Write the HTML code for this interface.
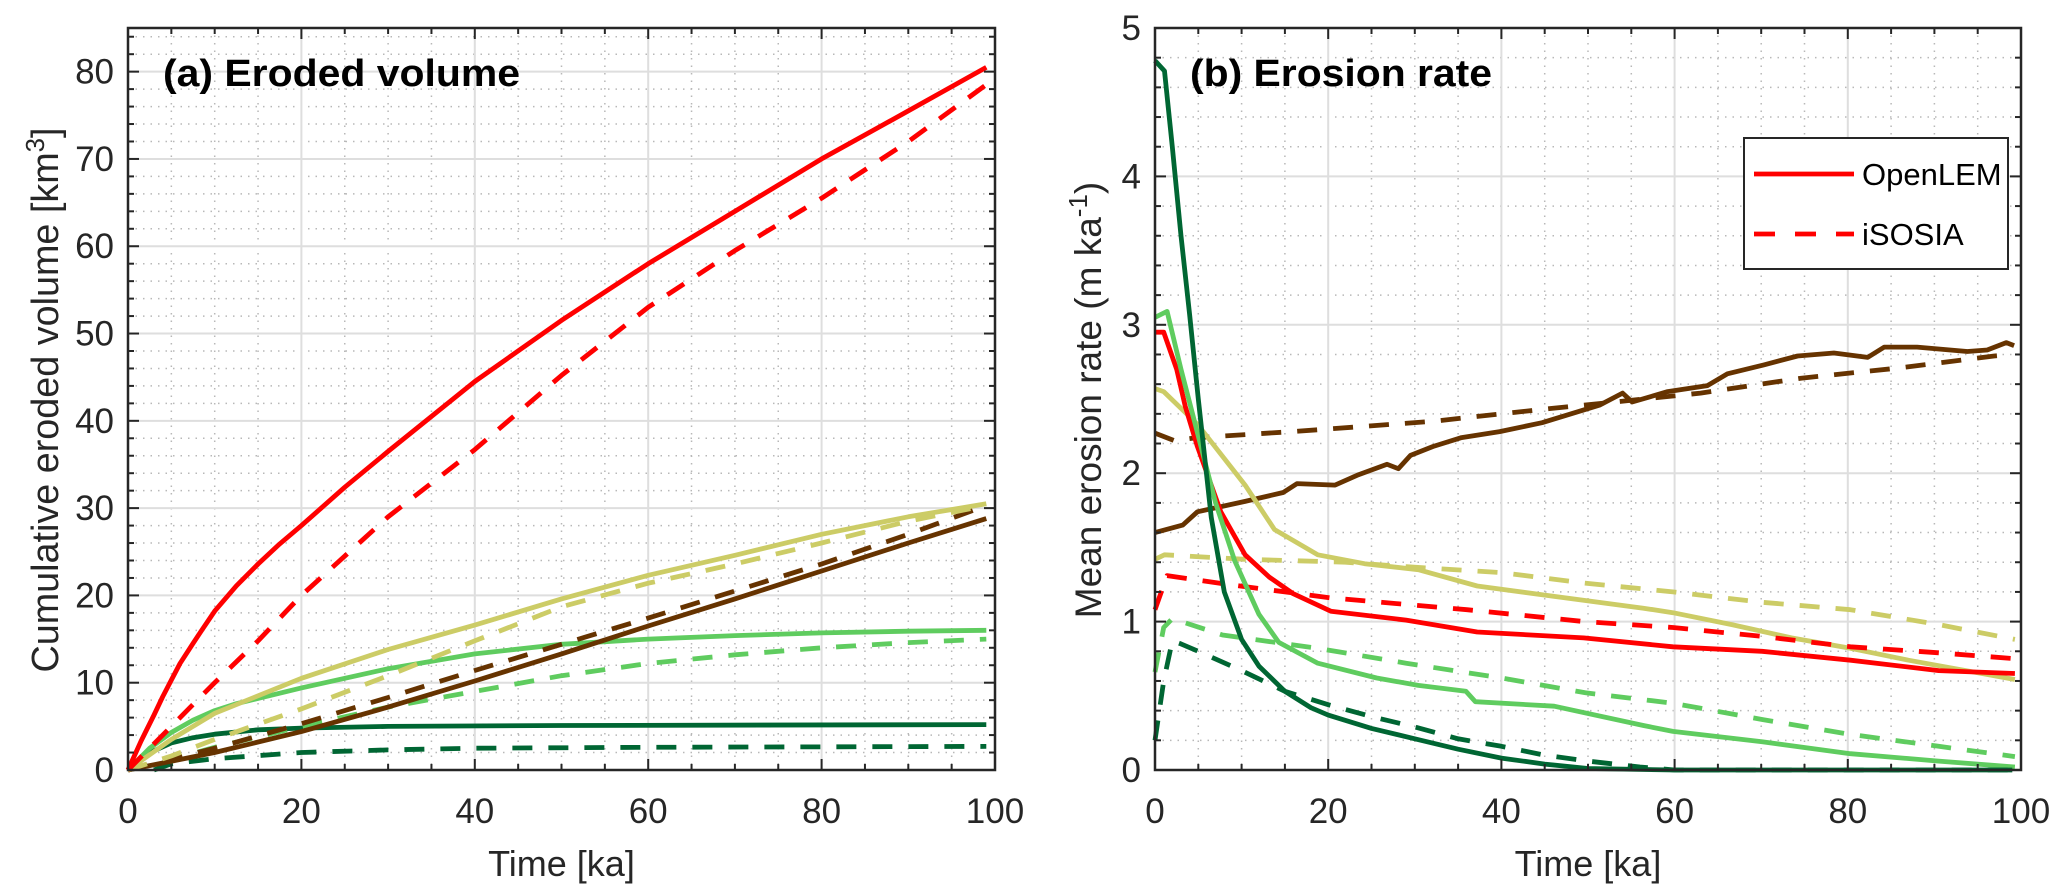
<!DOCTYPE html>
<html><head><meta charset="utf-8">
<style>
html,body{margin:0;padding:0;background:#fff;}
svg{display:block;font-family:"Liberation Sans",sans-serif;}
</style></head>
<body>
<svg id="fig" width="2067" height="896" viewBox="0 0 2067 896" xmlns="http://www.w3.org/2000/svg">
<rect width="2067" height="896" fill="#fff"/>
</svg>
<script>
// ---- Panel (a) data: cumulative eroded volume [km3] ----
const aRedSolid = [[0,0],[0.5,1.1],[1,2.2],[1.5,3.3],[2,4.3],[3,6.3],[4,8.4],[5,10.3],[6,12.2],[7.5,14.5],[8.5,16],[10,18.2],[12.5,21.1],[15,23.6],[17.5,25.9],[20,28],[25,32.4],[30,36.5],[40,44.5],[50,51.5],[60,58],[70,64],[80,70],[90,75.5],[99,80.5]];
const aRedDash = [[0,0],[3,3],[5,5],[10,10],[15,14.8],[20,20],[30,29],[40,36.7],[50,45.2],[60,53],[70,59.5],[80,65.5],[90,72],[99,78.5]];
const aYelSolid = [[0,0],[5,3.5],[10,6.5],[20,10.5],[30,13.8],[40,16.6],[50,19.6],[60,22.3],[70,24.6],[80,27],[90,29],[99,30.5]];
const aYelDash = [[0,0],[5,1.6],[10,3.5],[20,7],[30,10.8],[40,14.8],[50,18.7],[60,21.4],[70,23.6],[80,26],[90,28.5],[99,30.3]];
const aBrnDash = [[0,0],[10,2.5],[20,5.3],[30,8.3],[40,11.4],[50,14.4],[60,17.4],[70,20.5],[80,23.6],[90,27],[99,30.3]];
const aBrnSolid = [[0,0],[10,2],[20,4.4],[30,7.2],[40,10.2],[50,13.3],[60,16.5],[70,19.6],[80,22.8],[90,26],[99,28.8]];
const aLgSolid = [[0,0],[2.5,2.5],[5,4.3],[7.5,5.7],[10,6.8],[12.5,7.6],[15,8.2],[20,9.4],[30,11.6],[40,13.3],[50,14.4],[60,15],[70,15.4],[80,15.7],[90,15.9],[99,16]];
const aLgDash = [[0,0],[5,1.2],[10,2.6],[20,5],[30,7.2],[40,9],[50,10.8],[60,12.2],[70,13.2],[80,14],[90,14.6],[99,15]];
const aDgSolid = [[0,0],[1,0.8],[2,1.5],[3,2.2],[5,3.1],[7.5,3.7],[10,4.1],[15,4.6],[20,4.8],[30,5],[50,5.1],[99,5.2]];
const aDgDash = [[3,0],[5,0.7],[10,1.3],[20,2],[30,2.3],[40,2.5],[60,2.6],[99,2.7]];
// ---- Panel (b) data: mean erosion rate [m/ka] ----
const bDgSolid = [[0,4.78],[1.1,4.71],[2,4.2],[3,3.6],[4,3.07],[5,2.5],[6.5,1.7],[8,1.2],[10,0.88],[12,0.7],[15,0.53],[18,0.42],[20,0.37],[25,0.28],[30,0.21],[35,0.14],[40,0.08],[45,0.04],[50,0.01],[60,0],[99,0]];
const bDgDash = [[0,0.2],[1,0.6],[2,0.87],[3,0.85],[5,0.8],[10,0.67],[15,0.53],[20,0.44],[25,0.36],[30,0.29],[35,0.21],[40,0.16],[45,0.1],[50,0.06],[56,0.02],[60,0],[99,0]];
const bLgSolid = [[0,3.05],[1.4,3.09],[3,2.7],[5,2.25],[7,1.8],[9.2,1.41],[12,1.05],[14.3,0.86],[18.8,0.72],[25.6,0.62],[30.4,0.57],[35.9,0.53],[37,0.46],[46.1,0.43],[56.4,0.3],[59.8,0.26],[70.1,0.19],[80.3,0.11],[90.5,0.06],[99.3,0.02]];
const bLgDash = [[0,0.66],[1,0.96],[2,1.02],[7.8,0.91],[18.8,0.82],[29,0.72],[40,0.62],[49.7,0.52],[59.8,0.45],[70.1,0.34],[80.3,0.24],[90.5,0.16],[99.3,0.09]];
const bRedSolid = [[0,2.95],[1,2.95],[2.5,2.7],[3.5,2.45],[4.9,2.18],[7.6,1.74],[10.4,1.45],[13.2,1.3],[15.9,1.19],[20.3,1.07],[29,1.01],[37.2,0.93],[49.5,0.89],[59.8,0.83],[70.1,0.8],[80.3,0.74],[90.5,0.67],[99.3,0.65]];
const bRedDash = [[0,1.08],[1.4,1.31],[8.5,1.25],[20.3,1.16],[36,1.08],[49.6,1.0],[59.8,0.96],[70.1,0.9],[80.3,0.83],[90.5,0.79],[99.3,0.75]];
const bYelSolid = [[0,2.57],[1,2.55],[4.9,2.33],[10.4,1.92],[13.8,1.62],[18.8,1.45],[24.2,1.39],[30.4,1.35],[37.2,1.24],[46.1,1.17],[56.4,1.09],[59.8,1.06],[66.6,0.98],[73.5,0.89],[80.3,0.82],[87,0.74],[99.3,0.61]];
const bYelDash = [[0,1.42],[1.1,1.45],[10.4,1.42],[22,1.4],[29,1.37],[40,1.33],[49.5,1.26],[59.8,1.2],[70.1,1.13],[80.3,1.08],[90.5,0.98],[99.3,0.88]];
const bBrnSolid = [[0,1.6],[3.2,1.65],[4.9,1.74],[10.4,1.81],[14.8,1.87],[16.4,1.93],[20.8,1.92],[23.5,1.99],[26.8,2.06],[28.1,2.03],[29.5,2.12],[32.1,2.18],[35.4,2.24],[39.8,2.28],[44.7,2.34],[51.4,2.46],[54,2.54],[55.1,2.48],[59.2,2.55],[63.8,2.59],[66.1,2.67],[70.3,2.73],[74.2,2.79],[78.4,2.81],[82.3,2.78],[84.2,2.85],[88,2.85],[93.8,2.82],[96.1,2.83],[98.3,2.88],[99.2,2.86]];
const bBrnDash = [[0,2.27],[2.2,2.22],[4.9,2.24],[15.9,2.28],[32.1,2.35],[44.7,2.43],[51.4,2.47],[63,2.54],[74.6,2.64],[86.1,2.71],[96.9,2.79],[99,2.8]];
const xTicks = [0,20,40,60,80,100];
const aYTicks = [0,10,20,30,40,50,60,70,80];
const bYTicks = [0,1,2,3,4,5];

const NS = "http://www.w3.org/2000/svg";
const svg = document.getElementById('fig');
function el(tag, attrs, parent){const e=document.createElementNS(NS,tag);for(const k in attrs)e.setAttribute(k,attrs[k]);(parent||svg).appendChild(e);return e;}
const C = {red:"#ff0000", yel:"#cccc66", brn:"#663300", lg:"#5fcc5f", dg:"#006633"};
const DASH = "20 16";
const TXT = "#262626";

function panel(cfg){
  const g = el('g',{});
  
  
  const L=cfg.left,R=cfg.right,T=28,B=770;
  const sx = v => L + (R-L)*v/100;
  const sy = v => B - (B-T)*v/cfg.ymax;
  for(let v=0;v<=100;v+=5){ if(v%20===0) continue; const ln=el('line',{x1:sx(v),x2:sx(v),y1:T,y2:B,stroke:"#b8b8b8","stroke-width":1.5,"stroke-dasharray":"1.5 6"},g);   }
  for(let v=0;v<=cfg.ymax+1e-9;v+=cfg.minor){ const r=Math.round(v/cfg.major*1000)/1000; if(Math.abs(r-Math.round(r))<1e-6) continue; const ln=el('line',{x1:L,x2:R,y1:sy(v),y2:sy(v),stroke:"#b8b8b8","stroke-width":1.5,"stroke-dasharray":"1.5 6"},g);   }
  xTicks.forEach(v=>{ const ln=el('line',{x1:sx(v),x2:sx(v),y1:T,y2:B,stroke:"#dedede","stroke-width":2},g);   });
  cfg.yTicks.forEach(v=>{ const ln=el('line',{x1:L,x2:R,y1:sy(v),y2:sy(v),stroke:"#dedede","stroke-width":2},g);   });
  cfg.series.forEach(s=>{
    const d = s.data.map((p,i)=>(i?'L':'M')+sx(p[0]).toFixed(1)+','+sy(p[1]).toFixed(1)).join(' ');
    const p = el('path',{d:d,fill:"none",stroke:s.color,"stroke-width":4.8,"stroke-linejoin":"round","stroke-dasharray":s.dash?DASH:"none"},g);
    
    
  });
  for(let v=0;v<=100;v+=5){ const len = v%20===0?11:6;
    const t1=el('line',{x1:sx(v),x2:sx(v),y1:B,y2:B-len,stroke:TXT,"stroke-width":2},g);  
    const t2=el('line',{x1:sx(v),x2:sx(v),y1:T,y2:T+len,stroke:TXT,"stroke-width":2},g);   }
  for(let v=0;v<=cfg.ymax+1e-9;v+=cfg.minor){ const r=v/cfg.major; const len = Math.abs(r-Math.round(r))<1e-6?11:6;
    const t1=el('line',{x1:L,x2:L+len,y1:sy(v),y2:sy(v),stroke:TXT,"stroke-width":2},g);  
    const t2=el('line',{x1:R,x2:R-len,y1:sy(v),y2:sy(v),stroke:TXT,"stroke-width":2},g);   }
  const box=el('rect',{x:L,y:T,width:R-L,height:B-T,fill:"none",stroke:TXT,"stroke-width":2.5},g);
   
  xTicks.forEach(v=>{ const t=el('text',{x:sx(v),y:823,"text-anchor":"middle","font-size":35,fill:TXT},g); t.textContent=v;   });
  cfg.yTicks.forEach(v=>{ const t=el('text',{x:L-14,y:sy(v)+12,"text-anchor":"end","font-size":35,fill:TXT},g); t.textContent=v;   });
  const xt=el('text',{x:(L+R)/2,y:876,"text-anchor":"middle","font-size":36,fill:TXT},g); xt.textContent="Time [ka]";
   
  const pt=el('text',{x:cfg.titleX,y:86,"font-size":38,"font-weight":"bold",fill:"#000",textLength:cfg.titleLen,lengthAdjust:"spacingAndGlyphs"},g); pt.textContent=cfg.title;
   
  return {g,sx,sy};
}

const pa = panel({name:'panel-a-eroded-volume',left:128,right:995,ymax:85,major:10,minor:2,yTicks:aYTicks,title:"(a) Eroded volume",titleX:163,titleLen:357,
  series:[
    {name:'a-darkgreen-isosia',data:aDgDash,color:C.dg,dash:true},
    {name:'a-darkgreen-openlem',data:aDgSolid,color:C.dg},
    {name:'a-lightgreen-isosia',data:aLgDash,color:C.lg,dash:true},
    {name:'a-lightgreen-openlem',data:aLgSolid,color:C.lg},
    {name:'a-brown-isosia',data:aBrnDash,color:C.brn,dash:true},
    {name:'a-brown-openlem',data:aBrnSolid,color:C.brn},
    {name:'a-yellow-isosia',data:aYelDash,color:C.yel,dash:true},
    {name:'a-yellow-openlem',data:aYelSolid,color:C.yel},
    {name:'a-red-isosia',data:aRedDash,color:C.red,dash:true},
    {name:'a-red-openlem',data:aRedSolid,color:C.red}
  ]});
const pb = panel({name:'panel-b-erosion-rate',left:1155,right:2021,ymax:5,major:1,minor:0.2,yTicks:bYTicks,title:"(b) Erosion rate",titleX:1190,titleLen:302,
  series:[
    {name:'b-brown-isosia',data:bBrnDash,color:C.brn,dash:true},
    {name:'b-brown-openlem',data:bBrnSolid,color:C.brn},
    {name:'b-yellow-isosia',data:bYelDash,color:C.yel,dash:true},
    {name:'b-yellow-openlem',data:bYelSolid,color:C.yel},
    {name:'b-red-isosia',data:bRedDash,color:C.red,dash:true},
    {name:'b-red-openlem',data:bRedSolid,color:C.red},
    {name:'b-lightgreen-isosia',data:bLgDash,color:C.lg,dash:true},
    {name:'b-lightgreen-openlem',data:bLgSolid,color:C.lg},
    {name:'b-darkgreen-isosia',data:bDgDash,color:C.dg,dash:true},
    {name:'b-darkgreen-openlem',data:bDgSolid,color:C.dg}
  ]});

const ya = el('text',{transform:"translate(58,400) rotate(-90)","text-anchor":"middle","font-size":38,fill:TXT,textLength:545,lengthAdjust:"spacingAndGlyphs"});
ya.innerHTML = 'Cumulative eroded volume [km<tspan dy="-14" font-size="26">3</tspan><tspan dy="14">]</tspan>';


const yb = el('text',{transform:"translate(1101,400) rotate(-90)","text-anchor":"middle","font-size":37,fill:TXT});
yb.innerHTML = 'Mean erosion rate (m ka<tspan dy="-14" font-size="26">-1</tspan><tspan dy="14">)</tspan>';



const lg = el('g',{});


const lbox = el('rect',{x:1744,y:138,width:264,height:131,fill:"#fff",stroke:TXT,"stroke-width":2},lg);


const l1 = el('line',{x1:1754,x2:1854,y1:174,y2:174,stroke:C.red,"stroke-width":4.8},lg);


const t1 = el('text',{x:1862,y:185,"font-size":31,fill:"#000"},lg); t1.textContent="OpenLEM";


const l2 = el('line',{x1:1754,x2:1854,y1:234,y2:234,stroke:C.red,"stroke-width":4.8,"stroke-dasharray":"21 20"},lg);


const t2 = el('text',{x:1862,y:245,"font-size":31,fill:"#000"},lg); t2.textContent="iSOSIA";


</script>
</body></html>
